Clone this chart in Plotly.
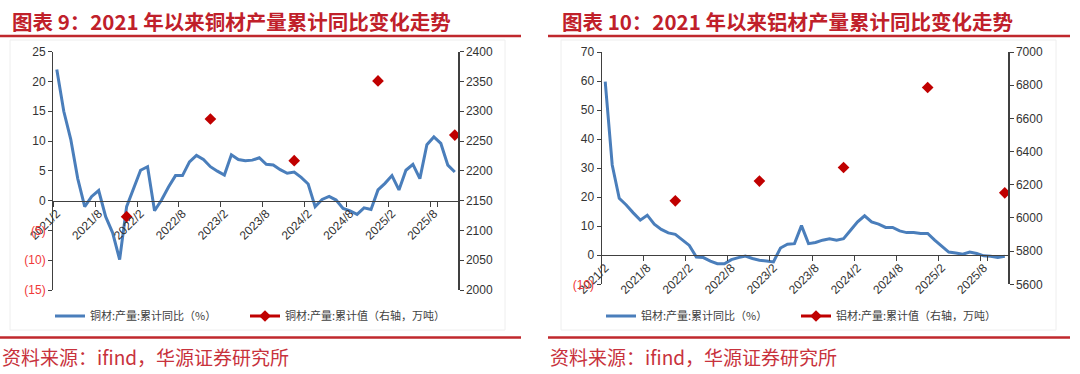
import plotly.graph_objects as go

# ---------------- data ----------------
months = []
y, m = 2021, 2
while (y, m) <= (2025, 11):
    months.append(f"{y}/{m}")
    m += 1
    if m > 12:
        m = 1
        y += 1

cu_yoy = [22.0, 15.0, 10.3, 3.7, -1.0, 0.7, 1.7, -2.7, -5.4, -9.9,
          -1.0, 2.1, 5.1, 5.7, -1.7, 0.1, 2.3, 4.2, 4.2, 6.5,
          7.6, 6.9, 5.7, 4.95, 4.3, 7.7, 6.9, 6.7, 6.8, 7.2,
          6.1, 6.0, 5.2, 4.6, 4.8, 3.9, 2.8, -1.0, 0.2, 0.7,
          0.1, -1.3, -1.7, -2.3, -1.2, -1.5, 1.8, 2.9, 4.2, 1.8,
          5.1, 6.1, 3.7, 9.4, 10.7, 9.6, 5.95, 4.8]

al_yoy = [59.8, 31.1, 19.6, 17.3, 14.6, 12.1, 13.8, 10.7, 8.9, 7.7,
          7.2, 5.4, 3.4, -0.6, -0.8, -2.0, -2.9, -2.9, -1.5, -0.8,
          -0.3, -1.1, -1.7, -2.0, -2.3, 2.5, 3.8, 4.0, 10.2, 4.0,
          4.4, 5.2, 5.7, 5.2, 5.7, 8.6, 11.5, 13.6, 11.5, 10.7,
          9.6, 9.6, 8.4, 7.8, 7.8, 7.5, 7.5, 5.2, 3.1, 1.1,
          0.8, 0.35, 1.1, 0.6, -0.2, -0.35, -0.8, -0.35]

cum_months = ["2021/12", "2022/12", "2023/12", "2024/12", "2025/11"]
cu_cum_vals = [2123, 2287, 2217, 2351, 2260]
al_cum_vals = [6103, 6222, 6304, 6786, 6151]

tick_months = [months[i] for i in range(0, len(months), 6)]

cu_left_ticks = [-15, -10, -5, 0, 5, 10, 15, 20, 25]
cu_right_ticks = list(range(2000, 2401, 50))
al_left_ticks = [-10, 0, 10, 20, 30, 40, 50, 60, 70]
al_right_ticks = list(range(5600, 7001, 200))

title_left = "图表 9：2021 年以来铜材产量累计同比变化走势"
title_right = "图表 10：2021 年以来铝材产量累计同比变化走势"
source_text = "资料来源：ifind，华源证券研究所"
leg_cu = ["铜材:产量:累计同比（%）", "铜材:产量:累计值（右轴，万吨）"]
leg_al = ["铝材:产量:累计同比（%）", "铝材:产量:累计值（右轴，万吨）"]


def full_series(vals):
    d = dict(zip(cum_months, vals))
    return [d.get(mm) for mm in months]


def fmt_tick(v):
    if v < 0:
        return f"<span style='color:#F03838'>({-v})</span>"
    return str(v)


# ---------------- geometry helpers (pixels -> paper) ----------------
W, H = 1080, 374
px = lambda x: x / W
py = lambda y: 1 - y / H

BLUE = "#4A7EBB"
RED = "#C00000"
AXC = "#404040"
TXT = "#333333"
TITLE_RED = "#C0202A"
FONT = "Noto Sans CJK SC"

fig = go.Figure()

fig.add_trace(go.Scatter(x=months, y=cu_yoy, mode="lines", name=leg_cu[0],
                         line=dict(color=BLUE, width=3), xaxis="x", yaxis="y",
                         legend="legend"))
fig.add_trace(go.Scatter(x=months, y=full_series(cu_cum_vals), mode="lines+markers",
                         name=leg_cu[1], connectgaps=False,
                         line=dict(color=RED, width=3),
                         marker=dict(symbol="diamond", size=9, color=RED),
                         xaxis="x", yaxis="y2", legend="legend"))
fig.add_trace(go.Scatter(x=months, y=al_yoy, mode="lines", name=leg_al[0],
                         line=dict(color=BLUE, width=3), xaxis="x2", yaxis="y3",
                         legend="legend2"))
fig.add_trace(go.Scatter(x=months, y=full_series(al_cum_vals), mode="lines+markers",
                         name=leg_al[1], connectgaps=False,
                         line=dict(color=RED, width=3),
                         marker=dict(symbol="diamond", size=9, color=RED),
                         xaxis="x2", yaxis="y4", legend="legend2"))

tickfont = dict(family="Liberation Sans, Arial", size=12, color=TXT)


def xaxis_cfg(dom, zero_py):
    return dict(domain=dom, type="category", categoryorder="array", categoryarray=months,
                range=[-0.5, len(months) - 0.5], anchor="free", position=py(zero_py),
                tickmode="array", tickvals=tick_months, ticktext=tick_months,
                tickson="boundaries", ticks="outside", ticklen=5, tickcolor=AXC,
                tickangle=-45, showline=True, linecolor=AXC, linewidth=1.2,
                showgrid=False, zeroline=False, tickfont=tickfont, fixedrange=True,
                automargin=False)


def yaxis_cfg(dom, rng, ticks, anchor, side="left", overlaying=None):
    d = dict(range=rng, tickmode="array", tickvals=ticks,
             ticktext=[fmt_tick(t) for t in ticks], ticks="outside", ticklen=4,
             tickcolor=AXC, showline=True, linecolor=AXC, linewidth=1.2,
             showgrid=False, zeroline=False, tickfont=tickfont, anchor=anchor,
             side=side, automargin=False, fixedrange=True)
    if overlaying:
        d["overlaying"] = overlaying
    else:
        d["domain"] = dom
    return d


fig.update_layout(
    template="none",
    width=W, height=H, margin=dict(l=0, r=0, t=0, b=0, autoexpand=False),
    paper_bgcolor="white", plot_bgcolor="rgba(0,0,0,0)",
    hovermode=False,
    xaxis=xaxis_cfg([px(53.3), px(458.3)], 200.7),
    yaxis=yaxis_cfg([py(290), py(51.7)], [-15, 25], cu_left_ticks, "x"),
    yaxis2=yaxis_cfg(None, [2000, 2400], cu_right_ticks, "x", side="right", overlaying="y"),
    xaxis2=xaxis_cfg([px(601.7), px(1008.3)], 255.0),
    yaxis3=yaxis_cfg([py(284.3), py(52.0)], [-10, 70], al_left_ticks, "x2"),
    yaxis4=yaxis_cfg(None, [5600, 7000], al_right_ticks, "x2", side="right", overlaying="y3"),
    legend=dict(orientation="h", x=px(50), y=py(316), xanchor="left", yanchor="middle",
                font=dict(family=FONT, size=11, color="#404040"),
                bgcolor="rgba(0,0,0,0)", entrywidth=150, entrywidthmode="pixels",
                traceorder="normal"),
    legend2=dict(orientation="h", x=px(601), y=py(316), xanchor="left", yanchor="middle",
                 font=dict(family=FONT, size=11, color="#404040"),
                 bgcolor="rgba(0,0,0,0)", entrywidth=150, entrywidthmode="pixels",
                 traceorder="normal"),
    showlegend=True,
)

shapes = []
# faint chart frames
for x0, x1 in [(10, 505), (561, 1056)]:
    shapes.append(dict(type="rect", xref="paper", yref="paper", x0=px(x0), x1=px(x1),
                       y0=py(330), y1=py(40), line=dict(color="#EEEEEE", width=1)))
# red rules
for x0, x1 in [(0, 521), (548, 1070)]:
    for yy in (36, 337.5):
        shapes.append(dict(type="line", xref="paper", yref="paper", x0=px(x0), x1=px(x1),
                           y0=py(yy), y1=py(yy), line=dict(color="#C0282D", width=2.5)))
fig.update_layout(shapes=shapes)

annotations = []
for x0, t in [(10, title_left), (560, title_right)]:
    annotations.append(dict(text=f"<b>{t}</b>", x=px(x0), y=py(21), xref="paper", yref="paper",
                            xanchor="left", yanchor="middle", showarrow=False,
                            font=dict(family=FONT, size=20.5, color=TITLE_RED)))
for x0 in (0, 548):
    annotations.append(dict(text=source_text, x=px(x0), y=py(356), xref="paper", yref="paper",
                            xanchor="left", yanchor="middle", showarrow=False,
                            font=dict(family=FONT, size=19, color="#C8323C")))
fig.update_layout(annotations=annotations)

fig.write_html(
    "out.html",
    config={"displayModeBar": False, "staticPlot": True},
    post_script="document.body.style.margin='0';document.body.style.padding='0';"
                "document.body.style.overflow='hidden';",
)
